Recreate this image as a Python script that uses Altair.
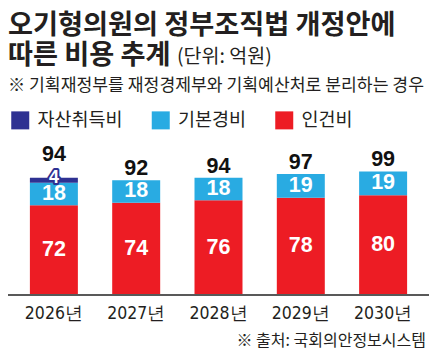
import altair as alt
import pandas as pd

# ---- data ----
years = ["2026년", "2027년", "2028년", "2029년", "2030년"]
personnel = [72, 74, 76, 78, 80]   # 인건비
basic = [18, 18, 18, 19, 19]       # 기본경비
asset = [4, 0, 0, 0, 0]            # 자산취득비
totals = [94, 92, 94, 97, 99]

categories = ["자산취득비", "기본경비", "인건비"]
colors = ["#2e3192", "#29abe2", "#ed1c24"]
stack_order = {"인건비": 0, "기본경비": 1, "자산취득비": 2}

title1 = "오기형의원의 정부조직법 개정안에"
title2 = "따른 비용 추계"
unit = "(단위: 억원)"
subtitle = "※ 기획재정부를 재정경제부와 기획예산처로 분리하는 경우"
source = "※ 출처: 국회의안정보시스템"

# ---- tables ----
rows = []
for i, y in enumerate(years):
    for cat, vals in (("인건비", personnel), ("기본경비", basic), ("자산취득비", asset)):
        if vals[i] > 0:
            rows.append({"year": y, "cat": cat, "value": vals[i], "ord": stack_order[cat]})
seg = pd.DataFrame(rows)
tot = pd.DataFrame({"year": years, "total": totals, "asset": asset})

W, H = 421, 343
KR = "Noto Sans CJK KR"
NUM = "Liberation Sans"
INK = "#231f20"

xs = alt.X("year:N", sort=years, axis=None,
           scale=alt.Scale(paddingInner=0.417, paddingOuter=0.266))
yscale = alt.Scale(domain=[0, 230], range=[287, 0])

bars = alt.Chart(seg).mark_bar().encode(
    x=xs,
    y=alt.Y("value:Q", stack="zero", scale=yscale, axis=None),
    color=alt.Color("cat:N",
                    scale=alt.Scale(domain=categories, range=colors),
                    legend=alt.Legend(orient="none", legendX=3, legendY=103,
                                      direction="horizontal", title=None,
                                      symbolType="square", symbolSize=324,
                                      symbolStrokeWidth=0, symbolOpacity=1,
                                      labelFontSize=18.5, labelFont=KR,
                                      labelColor=INK, columnPadding=28.5,
                                      labelOffset=8, padding=0)),
    order=alt.Order("ord:Q", sort="ascending"),
)

stacked = alt.Chart(seg).transform_stack(
    stack="value", groupby=["year"], as_=["v0", "v1"],
    sort=[alt.SortField("ord", order="ascending")],
).transform_calculate(mid="(datum.v0 + datum.v1) / 2")

seg_outline = stacked.transform_filter(alt.datum.cat == "자산취득비").mark_text(
    font=NUM, fontWeight="bold", fontSize=18, baseline="middle", dy=-2,
    color="#2e3192", stroke="#2e3192", strokeWidth=4, strokeJoin="round",
).encode(x=xs, y=alt.Y("mid:Q", scale=yscale), text=alt.Text("value:Q"))

seg_main = stacked.transform_filter(alt.datum.cat != "자산취득비").mark_text(
    font=NUM, fontWeight="bold", fontSize=21.5, baseline="middle", color="white",
).encode(x=xs, y=alt.Y("mid:Q", scale=yscale), text=alt.Text("value:Q"))

seg_small = stacked.transform_filter(alt.datum.cat == "자산취득비").mark_text(
    font=NUM, fontWeight="bold", fontSize=18, baseline="middle", dy=-2, color="white",
).encode(x=xs, y=alt.Y("mid:Q", scale=yscale), text=alt.Text("value:Q"))

total_labels = alt.Chart(tot).transform_calculate(
    ly="datum.total + (datum.asset > 0 ? 9 : 0)"
).mark_text(
    font=NUM, fontWeight="bold", fontSize=21.5, baseline="bottom", color="#111",
).encode(x=xs, y=alt.Y("ly:Q", scale=yscale), text=alt.Text("total:Q"))

year_labels = alt.Chart(tot).mark_text(
    font="DejaVu Sans Condensed, Liberation Sans Narrow, sans-serif",
    fontSize=17.5, baseline="middle", color=INK,
).encode(x=xs, y=alt.value(306), text="year:N")

baseline = alt.Chart(tot).mark_rule(color="#5a5a5a", strokeWidth=1.5).encode(
    x=alt.value(0), x2=alt.value(W), y=alt.value(287))


def txt(s, x, y, size, weight="normal", align="left", color=INK):
    return alt.Chart(pd.DataFrame({"t": [s]})).mark_text(
        font=KR, fontSize=size, fontWeight=weight, align=align,
        baseline="middle", color=color,
    ).encode(x=alt.value(x), y=alt.value(y), text="t:N")


chart = alt.layer(
    bars, seg_outline, seg_main, seg_small, total_labels, year_labels, baseline,
    txt(title1, 0, 18, 27.2, "bold"),
    txt(title2, 0, 47.5, 27.2, "bold"),
    txt(unit, 169, 48.5, 19.5),
    txt(subtitle, 0, 77.5, 17.2),
    txt(source, W - 3, 333, 16, align="right"),
).properties(width=W, height=H, padding=0, autosize="none"
).configure_view(stroke=None)

chart.save("out.html", embed_options={"renderer": "svg", "actions": False})
